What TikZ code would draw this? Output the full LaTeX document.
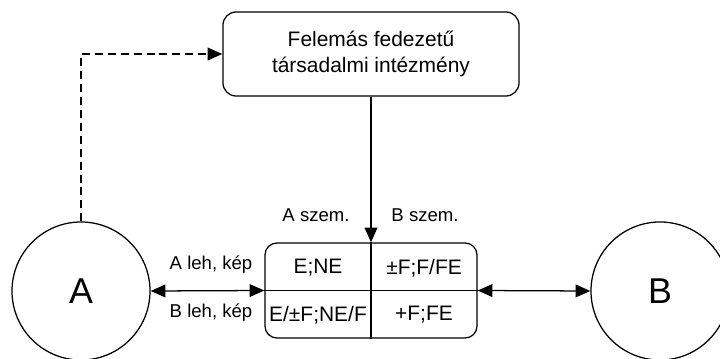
\documentclass[tikz,border=0pt]{standalone}
\usepackage{fontspec}
\setmainfont{Liberation Sans}
\usetikzlibrary{arrows.meta}
\definecolor{ink}{HTML}{000000}
\tikzset{
  base/.style={draw=ink, line width=0.9pt},
  tip/.style={-{Triangle[length=0.37cm, width=0.32cm]}},
  both/.style={{Triangle[length=0.37cm, width=0.32cm]}-{Triangle[length=0.37cm, width=0.32cm]}},
  dashline/.style={dash pattern=on 5.7pt off 3.5pt},
  inst/.style={base, rounded corners=0.33cm, minimum width=7.4cm, minimum height=2.1cm, align=center, font=\fontsize{14.9}{18.5}\selectfont},
  matbox/.style={base, rounded corners=0.3cm, minimum width=5.3cm, minimum height=2.375cm},
  cell/.style={inner sep=0pt, font=\fontsize{14.9}{17}\selectfont},
  actor/.style={base, circle, minimum size=3.45cm, font=\fontsize{25.5}{30}\selectfont},
  lab/.style={inner sep=1pt, font=\fontsize{13.2}{16}\selectfont},
}
\begin{document}
\begin{tikzpicture}[x=0.025cm, y=-0.025cm]
  \useasboundingbox (0,0) rectangle (720,359);
  \clip (0,0) rectangle (720,359);
  \node[inst] (inst) at (371,54) {Felemás fedezetű\\társadalmi intézmény};
  \node[matbox] (mat) at (371,290.5) {};
  \node[actor] (A) at (81,291) {A};
  \node[actor] (B) at (660,291) {B};
  \foreach \x/\y/\t [count=\i] in {318/268/{E;NE}, 424/268/{±F;F/FE}, 318/315/{E/±F;NE/F}, 424/315/{+F;FE}}{
    \node[cell] (cell\i) at (\x,\y) {\t};
  }
  \draw[base] (mat.north) -- (mat.south);
  \draw[base] (mat.west) -- (mat.east);
  \draw[base, tip] (inst.south) -- (mat.north);
  \draw[base, both] (A.east) -- (mat.west);
  \draw[base, both] (mat.east) -- (B.west);
  \draw[base, dashline, tip] (A.north) |- (inst.west);
  \node[lab] (aszem) at (316,215) {A szem.};
  \node[lab] (bszem) at (425,215) {B szem.};
  \node[lab] (aleh) at (211,265) {A leh, kép};
  \node[lab] (bleh) at (211,313) {B leh, kép};
\end{tikzpicture}
\end{document}
